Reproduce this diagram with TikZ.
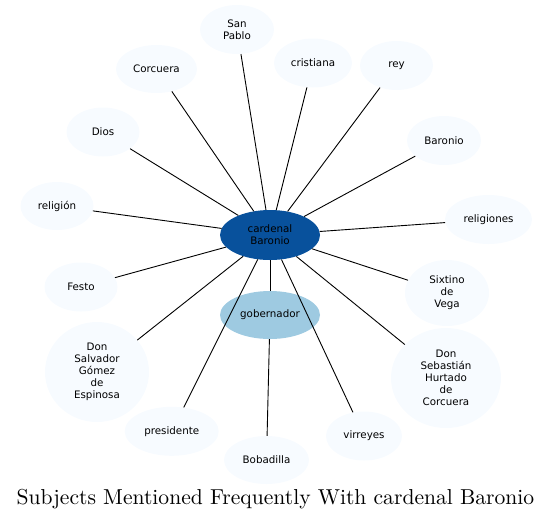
\documentclass[tikz,border=0pt]{standalone}
\usepackage{fontspec}
\newfontfamily\dejavu{DejaVu Sans}
\usetikzlibrary{shapes.geometric}
\definecolor{hubblue}{HTML}{08519C}
\definecolor{midblue}{HTML}{9ECAE1}
\definecolor{paleblue}{HTML}{F7FBFF}
\begin{document}
\begin{tikzpicture}
[x=1pt,y=-1pt,
  nodedecorate/.style={shape=ellipse,inner sep=0pt,align=center,fill=paleblue,%
    font=\dejavu\fontsize{10.3}{12}\selectfont},
  linedecorate/.style={-,line width=0.9pt}]
\useasboundingbox (0,0) rectangle (553,520);
% nodes or vertices
\node (cardenal) at (270,235) [nodedecorate,fill=hubblue,minimum width=100,minimum height=50] {cardenal\\Baronio};
\node (gobernador) at (270,315) [nodedecorate,fill=midblue,minimum width=100,minimum height=48] {gobernador};
\node (sanpablo) at (237,29.5) [nodedecorate,minimum width=74,minimum height=49] {San\\Pablo};
\node (corcuera) at (156.5,69) [nodedecorate,minimum width=81,minimum height=48] {Corcuera};
\node (dios) at (103,132) [nodedecorate,minimum width=73,minimum height=49] {Dios};
\node (religion) at (57,206) [nodedecorate,minimum width=73,minimum height=48] {religión};
\node (cristiana) at (313,63) [nodedecorate,minimum width=78,minimum height=49] {cristiana};
\node (rey) at (396.5,65.5) [nodedecorate,minimum width=73,minimum height=49] {rey};
\node (baronio) at (444,140.5) [nodedecorate,minimum width=74,minimum height=49] {Baronio};
\node (religiones) at (488.5,219.5) [nodedecorate,minimum width=87,minimum height=49] {religiones};
\node (festo) at (81,287) [nodedecorate,minimum width=73,minimum height=49] {Festo};
\node (salvador) at (97,372) [nodedecorate,minimum width=104,minimum height=100] {Don\\Salvador\\Gómez\\de\\Espinosa};
\node (presidente) at (171.7,431.3) [nodedecorate,minimum width=94,minimum height=49] {presidente};
\node (bobadilla) at (266.5,460) [nodedecorate,minimum width=85,minimum height=48] {Bobadilla};
\node (virreyes) at (364,436) [nodedecorate,minimum width=76,minimum height=49] {virreyes};
\node (sixtino) at (447,293) [nodedecorate,minimum width=84,minimum height=66] {Sixtino\\de\\Vega};
\node (sebastian) at (446,378) [nodedecorate,minimum width=110,minimum height=100] {Don\\Sebastián\\Hurtado\\de\\Corcuera};
% edges or lines
\path
(cardenal) edge[linedecorate] (sanpablo)
(cardenal) edge[linedecorate] (corcuera)
(cardenal) edge[linedecorate] (dios)
(cardenal) edge[linedecorate] (religion)
(cardenal) edge[linedecorate] (cristiana)
(cardenal) edge[linedecorate] (rey)
(cardenal) edge[linedecorate] (baronio)
(cardenal) edge[linedecorate] (religiones)
(cardenal) edge[linedecorate] (festo)
(cardenal) edge[linedecorate] (salvador)
(cardenal) edge[linedecorate] (presidente)
(cardenal) edge[linedecorate] (gobernador)
(cardenal) edge[linedecorate] (virreyes)
(cardenal) edge[linedecorate] (sixtino)
(cardenal) edge[linedecorate] (sebastian)
(gobernador) edge[linedecorate] (bobadilla);
% title
\node (title) at (275.5,504) [anchor=base,scale=2.16,font=\fontsize{10}{12}\selectfont] {Subjects Mentioned Frequently With cardenal Baronio};
\end{tikzpicture}
\end{document}
